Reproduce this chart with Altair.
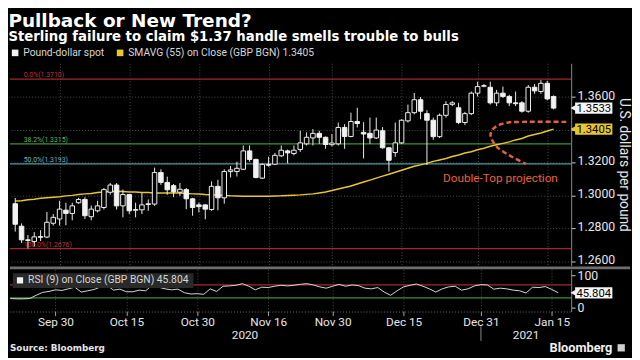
import altair as alt
import pandas as pd

# ---------------- data ----------------
opens = [1.2950, 1.2813, 1.2730, 1.2720, 1.2745, 1.2747, 1.2831, 1.2857, 1.2911, 1.2891,
         1.2956, 1.2976, 1.2871, 1.2907, 1.2927, 1.3020, 1.3064, 1.2937, 1.3006, 1.2910,
         1.2913, 1.2945, 1.2948, 1.3140, 1.3080, 1.3060, 1.3020, 1.3036, 1.2980, 1.2943,
         1.2943, 1.2915, 1.3056, 1.2986, 1.3146, 1.3146, 1.3160, 1.3272, 1.3220, 1.3106,
         1.3190, 1.3191, 1.3242, 1.3272, 1.3256, 1.3281, 1.3315, 1.3351, 1.3379, 1.3355,
         1.3310, 1.3315, 1.3415, 1.3360, 1.3451, 1.3385, 1.3379, 1.3351, 1.3395, 1.3291,
         1.3262, 1.3321, 1.3455, 1.3505, 1.3584, 1.3499, 1.3459, 1.3359, 1.3489, 1.3556,
         1.3535, 1.3445, 1.3499, 1.3624, 1.3666, 1.3660, 1.3565, 1.3624, 1.3604, 1.3565,
         1.3565, 1.3514, 1.3660, 1.3634, 1.3684, 1.3604]
highs = [1.2985, 1.2830, 1.2759, 1.2777, 1.2789, 1.2900, 1.2887, 1.2968, 1.2956, 1.2956,
         1.2986, 1.2990, 1.2939, 1.2968, 1.3046, 1.3076, 1.3076, 1.3036, 1.3010, 1.2956,
         1.3016, 1.2976, 1.3170, 1.3160, 1.3115, 1.3070, 1.3076, 1.3046, 1.2986, 1.2957,
         1.2946, 1.3086, 1.3096, 1.3160, 1.3180, 1.3206, 1.3305, 1.3305, 1.3225, 1.3196,
         1.3236, 1.3260, 1.3305, 1.3280, 1.3305, 1.3395, 1.3385, 1.3405, 1.3395, 1.3360,
         1.3375, 1.3445, 1.3435, 1.3505, 1.3535, 1.3447, 1.3475, 1.3475, 1.3417, 1.3295,
         1.3445, 1.3465, 1.3554, 1.3625, 1.3600, 1.3520, 1.3475, 1.3500, 1.3575, 1.3575,
         1.3565, 1.3510, 1.3634, 1.3694, 1.3680, 1.3694, 1.3644, 1.3664, 1.3614, 1.3634,
         1.3575, 1.3674, 1.3680, 1.3704, 1.3700, 1.3610]
lows = [1.2780, 1.2711, 1.2677, 1.2690, 1.2723, 1.2740, 1.2817, 1.2817, 1.2819, 1.2849,
        1.2950, 1.2857, 1.2849, 1.2897, 1.2915, 1.3005, 1.2915, 1.2867, 1.2887, 1.2867,
        1.2887, 1.2907, 1.2937, 1.3065, 1.3005, 1.2990, 1.2998, 1.2917, 1.2877, 1.2897,
        1.2855, 1.2907, 1.2910, 1.2950, 1.3110, 1.3116, 1.3156, 1.3206, 1.3105, 1.3100,
        1.3176, 1.3185, 1.3235, 1.3196, 1.3245, 1.3266, 1.3305, 1.3305, 1.3315, 1.3285,
        1.3300, 1.3305, 1.3285, 1.3355, 1.3415, 1.3226, 1.3315, 1.3345, 1.3285, 1.3146,
        1.3236, 1.3315, 1.3445, 1.3495, 1.3465, 1.3186, 1.3340, 1.3350, 1.3475, 1.3545,
        1.3435, 1.3430, 1.3490, 1.3604, 1.3660, 1.3555, 1.3545, 1.3595, 1.3545, 1.3545,
        1.3505, 1.3505, 1.3620, 1.3620, 1.3580, 1.3525]
closes = [1.2825, 1.2730, 1.2726, 1.2748, 1.2750, 1.2837, 1.2867, 1.2917, 1.2891, 1.2937,
          1.2976, 1.2877, 1.2917, 1.2937, 1.3036, 1.3064, 1.2937, 1.3006, 1.2907, 1.2915,
          1.2943, 1.2950, 1.3140, 1.3080, 1.3035, 1.3022, 1.3038, 1.2980, 1.2927, 1.2932,
          1.2917, 1.3056, 1.2986, 1.3146, 1.3156, 1.3166, 1.3272, 1.3220, 1.3110, 1.3190,
          1.3185, 1.3245, 1.3276, 1.3260, 1.3276, 1.3321, 1.3355, 1.3379, 1.3355, 1.3311,
          1.3320, 1.3415, 1.3360, 1.3451, 1.3439, 1.3375, 1.3351, 1.3399, 1.3291, 1.3215,
          1.3321, 1.3459, 1.3505, 1.3584, 1.3514, 1.3459, 1.3359, 1.3489, 1.3555, 1.3565,
          1.3445, 1.3499, 1.3624, 1.3664, 1.3670, 1.3565, 1.3624, 1.3604, 1.3565, 1.3560,
          1.3514, 1.3660, 1.3638, 1.3684, 1.3589, 1.3533]
sma55 = [1.2966, 1.2968, 1.2974, 1.2977, 1.2983, 1.2986, 1.2989, 1.2992, 1.2998, 1.3001,
         1.3006, 1.3010, 1.3013, 1.3019, 1.3022, 1.3025, 1.3026, 1.3025, 1.3022, 1.3021,
         1.3018, 1.3018, 1.3016, 1.3016, 1.3016, 1.3016, 1.3015, 1.3013, 1.3010, 1.3009,
         1.3006, 1.3004, 1.3003, 1.3000, 1.2998, 1.2997, 1.2995, 1.2995, 1.2995, 1.2995,
         1.2995, 1.2997, 1.2998, 1.3000, 1.3002, 1.3004, 1.3007, 1.3010, 1.3016, 1.3022,
         1.3031, 1.3040, 1.3049, 1.3058, 1.3070, 1.3082, 1.3094, 1.3106, 1.3118, 1.3130,
         1.3142, 1.3154, 1.3166, 1.3178, 1.3187, 1.3196, 1.3208, 1.3217, 1.3226, 1.3238,
         1.3247, 1.3259, 1.3267, 1.3279, 1.3288, 1.3300, 1.3309, 1.3318, 1.3327, 1.3339,
         1.3348, 1.3363, 1.3372, 1.3381, 1.3393, 1.3405]
rsi9 = [28, 27, 27, 28, 38, 47, 50, 55, 53, 58,
        63, 48, 52, 56, 64, 69, 54, 57, 49, 49,
        54, 52, 69, 63, 58, 55, 57, 46, 42, 43,
        41, 58, 50, 66, 67, 69, 74, 66, 55, 63,
        62, 66, 69, 67, 69, 72, 74, 70, 64, 60,
        66, 72, 66, 70, 68, 60, 58, 62, 48, 38,
        52, 64, 69, 73, 66, 58, 48, 58, 64, 66,
        54, 58, 67, 71, 70, 57, 60, 58, 54, 52,
        45, 63, 62, 65, 56, 45.804]

tick_idx = [7, 18, 29, 40, 50, 61, 73, 84]
tick_labels = ["Sep 30", "Oct 15", "Oct 30", "Nov 16", "Nov 30", "Dec 15", "Dec 31", "Jan 15"]
price_ticks = [1.26, 1.28, 1.30, 1.32, 1.34, 1.36]
hidden_price_label = 1.34   # covered by the SMA value tag in the reference
fib_names = ["0.0%", "38.2%", "50.0%", "100.0%"]
fib_values = [1.3710, 1.3315, 1.3193, 1.2676]
year_labels = ["2020", "2021"]
year_idx = [36.4, 80.0]
year_break_idx = [73]
proj_idx = [87.0, 80.0, 77.6, 75.9, 75.1, 75.2, 76.2, 78.2, 80.6]
proj_price = [1.3449, 1.3449, 1.3444, 1.3420, 1.3384, 1.3345, 1.3291, 1.3241, 1.3193]
proj_label = "Double-Top projection"
proj_label_idx = [76.6]
proj_label_price = [1.3108]

# ---------------- layout / style ----------------
W, H1, H2 = 572, 206, 43
FONT = "Roboto"
TXT = "#e6e6e6"
GRID = "#4d4d4d"
YELLOW = "#e8c531"
ORANGE = "#e8603c"
fib_line_colors = ["#a3282b", "#3f8f3f", "#4f9a9f", "#a3282b"]
fib_text_colors = ["#c4322f", "#5fb55f", "#62b7c0", "#c4322f"]

xscale = alt.Scale(domain=[-0.06, 87.0], nice=False, zero=False)
yscale = alt.Scale(domain=[1.2574, 1.3806], nice=False, zero=False)
rscale = alt.Scale(domain=[-12.1, 118.2], nice=False, zero=False)

df = pd.DataFrame({"i": list(range(len(closes))), "open": opens, "high": highs,
                   "low": lows, "close": closes, "sma": sma55, "rsi": rsi9})

series_names = ["Pound-dollar spot", f"SMAVG (55)  on Close (GBP BGN) {sma55[-1]:.4f}"]
rsi_name = f"RSI (9)  on Close (GBP BGN) {rsi9[-1]:.3f}"

# ---------------- price panel ----------------
x_price_axis = alt.Axis(values=tick_idx, labels=False, ticks=False, domain=False, grid=True,
                        gridColor=GRID, gridDash=[1, 2], title=None)
y_price_axis = alt.Axis(orient="right", values=price_ticks,
                        labelExpr=f"abs(datum.value - {hidden_price_label}) < 1e-6 ? '' : format(datum.value, '.4f')",
                        grid=True, gridColor=GRID, gridDash=[1, 2], tickSize=4, tickColor="#cccccc",
                        domain=True, domainColor="#8a8a8a", labelColor=TXT, labelFont=FONT,
                        labelFontSize=12.5, labelPadding=2, labelOffset=-2,
                        title="U.S. dollars per pound",
                        titleColor=TXT, titleFont=FONT, titleFontSize=14,
                        titleFontWeight="normal", titlePadding=2)
X = alt.X("i:Q", scale=xscale)

legend_df = pd.DataFrame({"series": series_names, "i": [-50, -50], "v": [1.30, 1.30]})
legend_layer = alt.Chart(legend_df).mark_square(size=40, clip=True, opacity=1).encode(
    x=alt.X("i:Q", scale=xscale, axis=x_price_axis),
    y=alt.Y("v:Q", scale=yscale, axis=y_price_axis),
    color=alt.Color("series:N", scale=alt.Scale(domain=series_names, range=["#f2f2f2", YELLOW]),
                    legend=alt.Legend(title=None, orient="none", legendX=0, legendY=-16,
                                      direction="horizontal", symbolType="square", symbolSize=45,
                                      symbolStrokeWidth=0, labelFont=FONT, labelFontSize=10.5,
                                      labelColor="#d6d6d6", columnPadding=10, labelOffset=3,
                                      labelLimit=400, padding=0)))

fib_df = pd.DataFrame({"name": fib_names, "value": fib_values})
fib_df["label"] = [f"{n}({v:.4f})" for n, v in zip(fib_names, fib_values)]
fib_rules = alt.Chart(fib_df).mark_rule(strokeWidth=1.2).encode(
    y=alt.Y("value:Q", scale=yscale),
    stroke=alt.Stroke("name:N", scale=alt.Scale(domain=fib_names, range=fib_line_colors), legend=None))
fib_text = alt.Chart(fib_df).mark_text(align="left", baseline="bottom", dy=-1, fontSize=7, font=FONT).encode(
    x=alt.value(14), y=alt.Y("value:Q", scale=yscale), text="label:N",
    fill=alt.Fill("name:N", scale=alt.Scale(domain=fib_names, range=fib_text_colors), legend=None))

sma_line = alt.Chart(df).mark_line(color=YELLOW, strokeWidth=1.5).encode(
    x=X, y=alt.Y("sma:Q", scale=yscale))
wicks = alt.Chart(df).mark_rule(color="#eeeeee", strokeWidth=1).encode(
    x=X, y=alt.Y("low:Q", scale=yscale), y2="high:Q")
bodies = alt.Chart(df).mark_bar(orient="vertical", size=4.6, stroke="#f0f0f0", strokeWidth=1).encode(
    x=X, y=alt.Y("open:Q", scale=yscale), y2="close:Q",
    fill=alt.condition("datum.close < datum.open", alt.value("#f2f2f2"), alt.value("#000000")))

proj_df = pd.DataFrame({"k": list(range(len(proj_idx))), "i": proj_idx, "p": proj_price})
proj = alt.Chart(proj_df).mark_line(color=ORANGE, strokeWidth=2.5, strokeDash=[5, 3],
                                    interpolate="cardinal").encode(
    x=X, y=alt.Y("p:Q", scale=yscale), order="k:Q")
proj_text = alt.Chart(pd.DataFrame({"i": proj_label_idx, "p": proj_label_price, "t": [proj_label]})
                      ).mark_text(color=ORANGE, fontSize=12, font=FONT).encode(
    x=X, y=alt.Y("p:Q", scale=yscale), text="t:N")


def tag(value, label, bg, fg, scale):
    d = pd.DataFrame({"v": [value], "lbl": [label]})
    base = alt.Chart(d).encode(y=alt.Y("v:Q", scale=scale))
    box = base.mark_rule(color=bg, strokeWidth=11.5, strokeCap="butt").encode(
        x=alt.value(W + 4), x2=alt.value(W + 42))
    arrow = base.mark_point(shape="triangle-left", filled=True, color=bg, size=38, opacity=1).encode(
        x=alt.value(W + 2))
    txt = base.mark_text(color=fg, fontSize=11.5, font=FONT, dy=1).encode(
        x=alt.value(W + 23), text="lbl:N")
    return [box, arrow, txt]


price = alt.layer(legend_layer, fib_rules, fib_text, sma_line, wicks, bodies, proj, proj_text,
                  *tag(closes[-1], f"{closes[-1]:.4f}", "#f4f4f4", "#000000", yscale),
                  *tag(sma55[-1], f"{sma55[-1]:.4f}", YELLOW, "#000000", yscale)
                  ).properties(width=W, height=H1)

# ---------------- RSI panel ----------------
label_expr = ("[" + ",".join(f"'{t}'" for t in tick_labels) + "][indexof(["
              + ",".join(str(v) for v in tick_idx) + "], datum.value)]")
x_rsi_axis = alt.Axis(values=tick_idx, labelExpr=label_expr, grid=True, gridColor=GRID,
                      gridDash=[1, 2], tickSize=4, tickColor="#aaaaaa", domain=True,
                      domainColor="#777777", domainDash=[1, 2], labelColor=TXT, labelFont=FONT,
                      labelFontSize=12, labelPadding=1, title=None)
y_rsi_axis = alt.Axis(orient="right", values=[0, 100], grid=False, tickSize=4, tickColor="#cccccc",
                      domain=True, domainColor="#8a8a8a", labelColor=TXT, labelFont=FONT,
                      labelFontSize=12.5, labelPadding=2, title=None)

rsi_leg = alt.Chart(pd.DataFrame({"series": [rsi_name], "i": [-50], "v": [50]})).mark_square(
    size=40, clip=True, opacity=1).encode(
    x=alt.X("i:Q", scale=xscale, axis=x_rsi_axis),
    y=alt.Y("v:Q", scale=rscale, axis=y_rsi_axis),
    color=alt.Color("series:N", scale=alt.Scale(domain=[rsi_name], range=["#f2f2f2"]),
                    legend=alt.Legend(title=None, orient="none", legendX=3, legendY=4,
                                      fillColor="#2a2a2a", padding=2, symbolType="square",
                                      symbolSize=40, symbolStrokeWidth=0, labelFont=FONT,
                                      labelFontSize=10.5, labelColor="#d6d6d6", labelOffset=3,
                                      labelLimit=400)))

one = pd.DataFrame({"a": [0]})
sep = alt.Chart(one).mark_rule(color="#6e6e6e", strokeWidth=3).encode(
    x=alt.value(0), x2=alt.value(W + 60), y=alt.value(-1.5))
ob_area = alt.Chart(df).transform_calculate(ob="max(datum.rsi, 70)").mark_area(
    color="#8c1f1f", opacity=0.95).encode(x=X, y=alt.Y("ob:Q", scale=rscale), y2=alt.datum(70))
os_area = alt.Chart(df).transform_calculate(os="min(datum.rsi, 30)").mark_area(
    color="#2e7d32", opacity=0.95).encode(x=X, y=alt.Y("os:Q", scale=rscale), y2=alt.datum(30))
lines_df = pd.DataFrame({"v": [70, 30], "c": ["#a3282b", "#3f8f3f"]})
rsi_bands = alt.Chart(lines_df).mark_rule(strokeWidth=1.2).encode(
    y=alt.Y("v:Q", scale=rscale), stroke=alt.Stroke("c:N", scale=None))
rsi_line = alt.Chart(df).mark_line(color="#d8d8d8", strokeWidth=1).encode(
    x=X, y=alt.Y("rsi:Q", scale=rscale))

years = alt.Chart(pd.DataFrame({"t": year_labels, "i": year_idx})).mark_text(
    color=TXT, fontSize=12, font=FONT).encode(x=X, y=alt.value(H2 + 24), text="t:N")
ybreak = alt.Chart(pd.DataFrame({"i": year_break_idx})).mark_rule(color="#888888").encode(
    x=X, y=alt.value(H2 + 15), y2=alt.value(H2 + 30))
source = alt.Chart(pd.DataFrame({"t": ["Source: Bloomberg"]})).mark_text(
    align="left", font="DejaVu Sans", fontWeight="bold", fontSize=9, color=TXT).encode(
    x=alt.value(0), y=alt.value(H2 + 37), text="t:N")
brand = alt.Chart(pd.DataFrame({"t": ["Bloomberg"]})).mark_text(
    align="right", font=FONT, fontWeight="bold", fontSize=13, color="#f0f0f0").encode(
    x=alt.value(W + 42), y=alt.value(H2 + 37), text="t:N")
brand_icon = alt.Chart(one).mark_square(size=55, color="#cfcfcf", opacity=1).encode(
    x=alt.value(W + 51), y=alt.value(H2 + 37))

rsi = alt.layer(rsi_leg, sep, os_area, ob_area, rsi_bands, rsi_line,
                *tag(rsi9[-1], f"{rsi9[-1]:.3f}", "#f4f4f4", "#000000", rscale),
                years, ybreak, source, brand, brand_icon
                ).properties(width=W, height=H2)

chart = alt.vconcat(price, rsi, spacing=0).resolve_scale(
    color="independent").resolve_legend(color="independent").properties(
    title=alt.TitleParams(
        text="Pullback or New Trend?",
        subtitle="Sterling failure to claim $1.37 handle smells trouble to bulls",
        anchor="start", frame="bounds", font="DejaVu Sans", fontSize=18.8, fontWeight="bold",
        color="#ffffff", subtitleFont="DejaVu Sans", subtitleFontSize=13.5,
        subtitleFontWeight="bold", subtitleColor="#ffffff", subtitlePadding=0, offset=4),
    padding=0, background="#000000"
).configure_view(strokeWidth=0)

chart.save("out.html", embed_options={"renderer": "svg", "actions": False})
